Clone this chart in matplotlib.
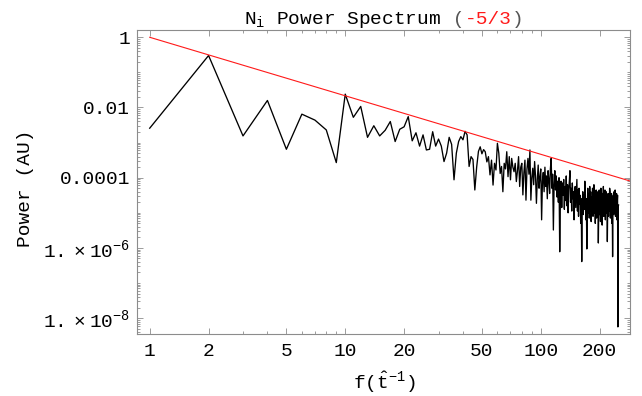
import numpy as np
import matplotlib
matplotlib.use("Agg")
import matplotlib.pyplot as plt
from matplotlib.ticker import FixedLocator, FixedFormatter, NullFormatter

plt.rcParams["font.family"] = ["Liberation Mono", "DejaVu Sans"]
plt.rcParams["mathtext.fontset"] = "custom"
plt.rcParams["mathtext.rm"] = "Liberation Mono"
plt.rcParams["mathtext.it"] = "Liberation Mono"
plt.rcParams["mathtext.tt"] = "Liberation Mono"

# ── Data: frequency bins 1..250, power as log10 values ──
freq = np.arange(1, 251)
log_power = [
    -2.59, -0.52, -2.81, -1.80, -3.19, -2.19, -2.36, -2.64, -3.57, -1.62,   # 1-10
    -2.28, -1.97, -2.85, -2.52, -2.81, -2.65, -2.40, -2.97, -2.62, -2.55,   # 11-20
    -2.26, -2.95, -2.72, -3.10, -2.78, -3.21, -3.19, -2.69, -3.10, -2.90,   # 21-30
    -3.10, -3.54, -3.30, -2.85, -3.05, -4.06, -3.30, -2.97, -2.83, -2.92,   # 31-40
    -2.68, -2.78, -3.68, -3.40, -3.48, -4.35, -3.70, -3.25, -3.12, -3.32,   # 41-50
    -3.20, -3.26, -3.55, -3.40, -3.92, -3.50, -4.21, -3.59, -3.78, -3.02,   # 51-60
    -3.30, -3.88, -3.68, -4.40, -3.59, -3.75, -3.26, -3.97, -3.40, -4.06,   # 61-70
    -3.45, -3.70, -3.83, -3.59, -4.11, -3.80, -3.40, -4.25, -3.70, -3.59,   # 71-80
    -4.49, -3.85, -3.50, -4.64, -3.75, -3.45, -3.90, -3.21, -4.64, -4.00,   # 81-90
    -3.73, -4.20, -3.54, -3.95, -4.73, -4.05, -3.64, -4.30, -3.97, -3.75,   # 91-100
    -5.20, -4.10, -3.85, -4.40, -3.70, -4.25, -3.95, -4.60, -3.80, -4.05,   # 101-110
    -4.45, -3.75, -3.45, -4.30, -3.90, -5.49, -4.20, -3.80, -4.35, -3.95,   # 111-120
    -4.55, -4.10, -4.70, -4.00, -6.11, -4.60, -4.10, -4.85, -4.15, -4.50,   # 121-130
    -4.05, -4.90, -4.25, -4.65, -3.95, -4.80, -4.20, -5.00, -4.35, -4.10,   # 131-140
    -3.80, -4.70, -4.30, -4.95, -4.15, -4.60, -4.40, -5.20, -4.50, -4.25,   # 141-150
    -4.85, -4.45, -4.05, -4.95, -4.35, -5.10, -4.30, -4.75, -4.50, -5.30,   # 151-160
    -4.60, -6.39, -4.80, -4.40, -5.05, -4.50, -4.90, -4.10, -4.70, -5.20,   # 161-170
    -4.60, -6.03, -4.75, -4.30, -5.00, -4.45, -5.15, -4.25, -4.90, -4.40,   # 171-180
    -5.25, -4.55, -4.95, -4.30, -5.10, -4.60, -4.20, -5.00, -4.45, -5.30,   # 181-190
    -4.70, -4.35, -5.15, -4.55, -4.95, -4.40, -5.86, -4.80, -4.35, -5.05,   # 191-200
    -4.50, -5.25, -4.30, -4.85, -4.60, -5.35, -4.45, -4.95, -4.25, -5.10,   # 201-210
    -4.55, -4.90, -4.35, -5.20, -4.65, -4.40, -5.00, -4.50, -5.82, -4.75,   # 211-220
    -4.45, -5.10, -4.60, -4.95, -4.30, -4.40, -5.15, -4.55, -5.00, -4.45,   # 221-230
    -5.30, -4.70, -6.25, -4.85, -4.50, -5.05, -4.40, -4.90, -4.60, -4.35,   # 231-240
    -5.10, -4.55, -4.95, -4.45, -5.20, -4.70, -4.50, -8.25, -4.80, -4.78,   # 241-250
]
power = 10.0 ** np.array(log_power)

# reference power law: amp * f^slope
ref_amp = 1.0
ref_slope = -5.0 / 3.0

x_major = [1, 2, 5, 10, 20, 50, 100, 200]
x_minor = [3, 4, 6, 7, 8, 9, 30, 40, 60, 70, 80, 90, 300]
y_major = [1, 1e-2, 1e-4, 1e-6, 1e-8]
y_labels = ["1", "0.01", "0.0001",
            r"$1.\,\times\,10^{-6}$", r"$1.\,\times\,10^{-8}$"]

XLIM = (0.864, 287)
YLIM = (3.6e-9, 1.58)

W, H = 642, 396
fig = plt.figure(figsize=(W / 100, H / 100), dpi=100)
ax = fig.add_axes([137.3 / W, 1 - 333.7 / H, 493.0 / W, 303.4 / H])
ax.set_xscale("log")
ax.set_yscale("log")
ax.set_xlim(*XLIM)
ax.set_ylim(*YLIM)

# data + reference line
ax.plot(freq, power, color="black", lw=0.95)
f_ref = np.array([1.0, XLIM[1]])
ax.plot(f_ref, ref_amp * f_ref ** ref_slope, color="#ff1a1a", lw=0.8)

# ── ticks, Mathematica-ish frame ────────────────────────────────────
frame_c = "#8c8c8c"
for s in ax.spines.values():
    s.set_color(frame_c)
    s.set_linewidth(0.8)

ax.xaxis.set_major_locator(FixedLocator(x_major))
ax.xaxis.set_major_formatter(FixedFormatter([str(v) for v in x_major]))
ax.xaxis.set_minor_locator(FixedLocator(x_minor))
ax.xaxis.set_minor_formatter(NullFormatter())

y_minor = [m * 10.0 ** e for e in range(-9, 1) for m in range(1, 10)
           if not (m == 1 and e % 2 == 0)]
ax.yaxis.set_major_locator(FixedLocator(y_major))
ax.yaxis.set_major_formatter(FixedFormatter(y_labels))
ax.yaxis.set_minor_locator(FixedLocator(y_minor))
ax.yaxis.set_minor_formatter(NullFormatter())

ax.tick_params(which="both", direction="in", top=True, right=True,
               color=frame_c, width=0.6, labelsize=14, labelcolor="black")
ax.tick_params(which="major", length=4)
ax.tick_params(which="minor", length=2)
ax.tick_params(axis="x", which="major", pad=7)
ax.tick_params(axis="y", which="major", pad=5)

ax.set_xlabel(r"f$(\hat{\mathrm{t}}^{-1})$", fontsize=14, labelpad=7)
fig.text(25.5 / W, 1 - 188 / H, "Power (AU)", rotation=90,
         ha="center", va="center", fontsize=14)

# ── title with coloured exponent ───────────────────────────────────
parts = [(r"N$_{\mathrm{i}}$ Power Spectrum", "black"),
         (" (", "#555555"), ("-5/3", "#ff1a1a"), (")", "#555555")]
ty = 1 - 23.5 / H
texts = [fig.text(0, ty, s, color=c, fontsize=14, va="baseline") for s, c in parts]
fig.canvas.draw()
renderer = fig.canvas.get_renderer()
widths = [t.get_window_extent(renderer).width for t in texts]
x0 = (137.3 + 630.3) / 2 - sum(widths) / 2
for t, w in zip(texts, widths):
    t.set_x(x0 / W)
    x0 += w

fig.savefig("out.png", dpi=100)
